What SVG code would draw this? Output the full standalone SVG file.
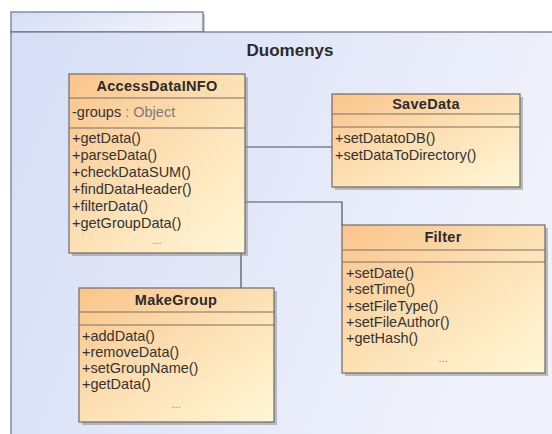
<svg xmlns="http://www.w3.org/2000/svg" width="552" height="434" viewBox="0 0 552 434">
<defs>
<linearGradient id="pkg" x1="0" y1="0" x2="1" y2="0.3">
<stop offset="0" stop-color="#d5def6"/>
<stop offset="1" stop-color="#f0f2fb"/>
</linearGradient>
<linearGradient id="cls" x1="0" y1="0" x2="1" y2="1">
<stop offset="0" stop-color="#fbc48a"/>
<stop offset="0.55" stop-color="#fde3b8"/>
<stop offset="1" stop-color="#fff7d6"/>
</linearGradient>
<style>
.pk{fill:url(#pkg);stroke:#6b7388;stroke-width:1.2}
.box{fill:url(#cls);stroke:#6e6a66;stroke-width:1.2}
.sh{fill:#8e8e8e;opacity:0.55}
.sep{stroke:#7a6f66;stroke-width:1.1}
.ttl{font-family:"Liberation Sans",Arial,sans-serif;font-weight:bold;font-size:14.5px;fill:#2b2b2b;text-anchor:middle;letter-spacing:0.3px}
.op{font-family:"Liberation Sans",Arial,sans-serif;font-size:14.5px;fill:#333}
.ty{fill:#7a7a7a}
.dots{font-family:"Liberation Sans",Arial,sans-serif;font-size:11px;fill:#888;text-anchor:middle}
.con{stroke:#4a4f5e;stroke-width:1.2;fill:none}
</style>
</defs>
<rect width="552" height="434" fill="#ffffff"/>
<g id="package">
<rect x="13" y="14" width="192" height="20" fill="#9a9aa0" opacity="0.5"/>
<rect class="pk" x="11" y="12" width="192" height="20"/>
<rect class="pk" x="11" y="32" width="560" height="420"/>
<text x="290" y="56" font-family="Liberation Sans,Arial,sans-serif" font-weight="bold" font-size="17" fill="#2b2b2b" text-anchor="middle">Duomenys</text>
</g>
<g id="connectors">
<line class="con" x1="245" y1="147" x2="332" y2="147"/>
<polyline class="con" points="245,202 342,202 342,225"/>
<line class="con" x1="241" y1="253" x2="241" y2="288"/>
</g>
<g id="AccessDataINFO">
<rect class="sh" x="72" y="77" width="176" height="179"/>
<rect class="box" x="69" y="74" width="176" height="179"/>
<line class="sep" x1="69" y1="98" x2="245" y2="98"/>
<line class="sep" x1="69" y1="128" x2="245" y2="128"/>
<text class="ttl" x="157" y="91">AccessDataINFO</text>
<text class="op" x="72" y="117">-groups<tspan class="ty"> : Object</tspan></text>
<text class="op" x="72" y="143">+getData()</text>
<text class="op" x="72" y="160">+parseData()</text>
<text class="op" x="72" y="177">+checkDataSUM()</text>
<text class="op" x="72" y="194">+findDataHeader()</text>
<text class="op" x="72" y="211">+filterData()</text>
<text class="op" x="72" y="228">+getGroupData()</text>
<text class="dots" x="157" y="244">...</text>
</g>
<g id="SaveData">
<rect class="sh" x="335" y="97" width="188" height="93"/>
<rect class="box" x="332" y="94" width="188" height="93"/>
<line class="sep" x1="332" y1="114" x2="520" y2="114"/>
<line class="sep" x1="332" y1="127" x2="520" y2="127"/>
<text class="ttl" x="426" y="109">SaveData</text>
<text class="op" x="335" y="143">+setDatatoDB()</text>
<text class="op" x="335" y="160">+setDataToDirectory()</text>
</g>
<g id="Filter">
<rect class="sh" x="345" y="228" width="203" height="148"/>
<rect class="box" x="342" y="225" width="203" height="148"/>
<line class="sep" x1="342" y1="250" x2="545" y2="250"/>
<line class="sep" x1="342" y1="262" x2="545" y2="262"/>
<text class="ttl" x="443" y="242">Filter</text>
<text class="op" x="346" y="278">+setDate()</text>
<text class="op" x="346" y="294">+setTime()</text>
<text class="op" x="346" y="311">+setFileType()</text>
<text class="op" x="346" y="327">+setFileAuthor()</text>
<text class="op" x="346" y="343">+getHash()</text>
<text class="dots" x="443" y="362">...</text>
</g>
<g id="MakeGroup">
<rect class="sh" x="82" y="291" width="195" height="134"/>
<rect class="box" x="79" y="288" width="195" height="134"/>
<line class="sep" x1="79" y1="312" x2="274" y2="312"/>
<line class="sep" x1="79" y1="325" x2="274" y2="325"/>
<text class="ttl" x="176" y="305">MakeGroup</text>
<text class="op" x="82" y="341">+addData()</text>
<text class="op" x="82" y="357">+removeData()</text>
<text class="op" x="82" y="373">+setGroupName()</text>
<text class="op" x="82" y="389">+getData()</text>
<text class="dots" x="176" y="408">...</text>
</g>
</svg>
